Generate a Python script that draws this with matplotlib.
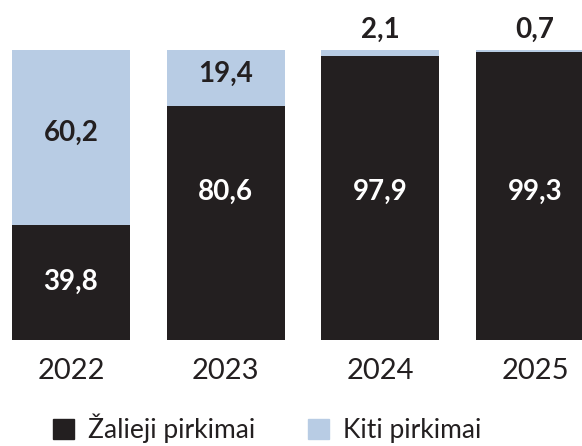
import matplotlib.pyplot as plt
from matplotlib.patches import Patch

# Žaliųjų pirkimų dalis (%) pagal metus
years = ['2022', '2023', '2024', '2025']
zalieji = [39.8, 80.6, 97.9, 99.3]
kiti = [60.2, 19.4, 2.1, 0.7]

black = '#231f20'
blue = '#b8cce4'

plt.rcParams['font.family'] = ['Lato', 'DejaVu Sans']

fig = plt.figure(figsize=(5.82, 4.46), dpi=100)
ax = fig.add_axes([0, 106 / 446, 1, 290 / 446])

x = range(len(years))
w = 0.763
ax.bar(x, zalieji, width=w, color=black, zorder=2)
ax.bar(x, kiti, width=w, bottom=zalieji, color=blue, zorder=2)

ax.set_xlim(-0.459, 3.303)
ax.set_ylim(0, 100)
ax.axhline(-0.3, xmin=12 / 582, xmax=1, color='#dce4ee', lw=1, zorder=1)

def fmt(v):
    return f'{v:.1f}'.replace('.', ',')

for i in x:
    z, k = zalieji[i], kiti[i]
    yz = z / 2 if z < 50 else 51
    ax.text(i, yz, fmt(z), ha='center', va='center', color='white',
            fontsize=20, fontweight='bold')
    if k >= 5:
        ax.text(i, z + k / 2 + 1.5, fmt(k), ha='center', va='center', color=black,
                fontsize=20, fontweight='bold')
    else:
        ax.annotate(fmt(k), (i, 100), xytext=(0, 8.6), textcoords='offset points',
                    ha='center', va='baseline', color=black,
                    fontsize=20, fontweight='bold', annotation_clip=False)

ax.set_xticks(list(x))
ax.set_xticklabels(years, fontsize=21, color=black)
ax.tick_params(axis='x', length=0, pad=13)
ax.set_yticks([])
for s in ax.spines.values():
    s.set_visible(False)

handles = [Patch(color=black, label='Žalieji pirkimai'),
           Patch(color=blue, label='Kiti pirkimai')]
fig.legend(handles=handles, loc='center left', bbox_to_anchor=(53 / 582, 1 - 428 / 446),
           ncol=2, frameon=False, borderpad=0, borderaxespad=0,
           handlelength=0.79, handleheight=0.79, handletextpad=0.54,
           columnspacing=2.0, prop={'size': 19}, labelcolor=black)

plt.savefig('out.png', dpi=100)
